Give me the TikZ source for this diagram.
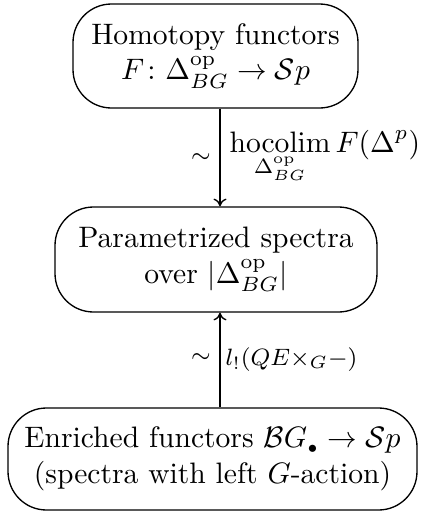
\documentclass[tikz,border=0pt]{standalone}
\usepackage{amsmath}
\usetikzlibrary{arrows.meta}
\tikzset{
  box/.style={draw, line width=0.45pt, rounded corners=13pt, align=center, inner sep=0pt},
  conn/.style={line width=0.45pt, -{To[length=2.6pt,width=4.4pt]}},
  lbl/.style={inner sep=0pt},
  tilde/.style={inner sep=0pt, font=\footnotesize}
}
\begin{document}
\begin{tikzpicture}[x=0.338pt, y=-0.338pt]
\useasboundingbox (0,0) rectangle (422,512);
\node[box, minimum width=285*0.338pt, minimum height=104*0.338pt] (n1) at (215.5,56)
  {Homotopy functors\\ $F\colon \Delta^{\mathrm{op}}_{BG}\to\mathcal{S}p$};
\node[box, minimum width=322*0.338pt, minimum height=105*0.338pt] (n2) at (216,259.5)
  {Parametrized spectra\\ over $|\Delta^{\mathrm{op}}_{BG}|$};
\node[box, minimum width=409*0.338pt, minimum height=102*0.338pt] (n3) at (212.5,459)
  {Enriched functors $\mathcal{B}G_{\scriptscriptstyle\bullet}\to\mathcal{S}p$\\ (spectra with left $G$-action)};
\coordinate (ax) at (220,0);
\draw[conn] (n1.south -| ax) -- (n2.north -| ax);
\draw[conn] (n3.north -| ax) -- (n2.south -| ax);
\node[tilde] (t1) at (201,158) {$\sim$};
\node[lbl, anchor=base west] (h1) at (229,152) {$\displaystyle\operatorname*{hocolim}_{\Delta^{\mathrm{op}}_{BG}} F(\Delta^p)$};
\node[tilde] (t2) at (201,358) {$\sim$};
\node[lbl, anchor=base west, font=\footnotesize] (h2) at (225,365) {$l_!(QE{\times_G}-)$};
\end{tikzpicture}
\end{document}
